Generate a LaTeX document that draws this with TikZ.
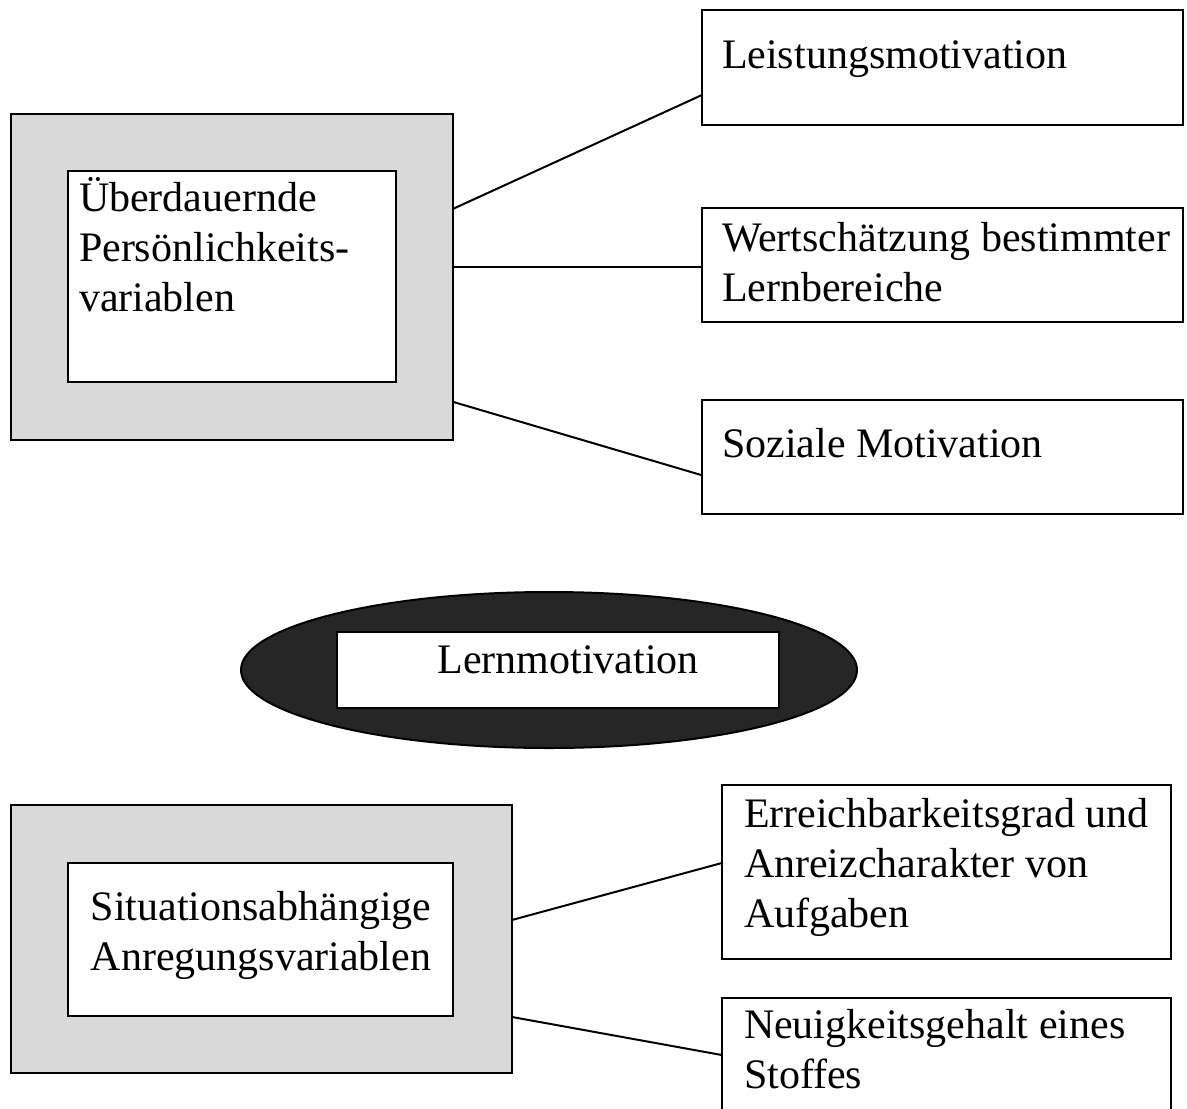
\documentclass[tikz,border=0pt]{standalone}
\usepackage{fontspec}
\setmainfont{Liberation Serif}
\usetikzlibrary{calc,shapes.geometric}
\definecolor{panelgray}{HTML}{D9D9D9}
\definecolor{ovalfill}{HTML}{262626}
\tikzset{
  panel/.style={draw, fill=panelgray, line width=1.2pt, rectangle, inner sep=0pt, outer sep=0pt, anchor=north west},
  card/.style={draw, fill=white, line width=1pt, rectangle, inner sep=0pt, outer sep=0pt, anchor=north west},
  thincard/.style={card, line width=0.8pt},
  oval/.style={draw, fill=ovalfill, line width=1pt, ellipse, inner sep=0pt, outer sep=0pt},
  caption/.style={inner sep=0pt, outer sep=0pt, font=\fontsize{21pt}{25pt}\selectfont},
  link/.style={line width=1pt},
}
\begin{document}
\begin{tikzpicture}[x=0.5pt, y=-0.5pt]
\useasboundingbox (0,0) rectangle (1187,1108);
\begin{scope}
\clip (0,0) rectangle (1187,1108);

% upper group: lasting personality variables
\node[panel, minimum width=221pt, minimum height=163pt] (persOuter) at (11,114) {};
\node[thincard, minimum width=164pt, minimum height=105.5pt] (persInner) at (68,171) {};
\node[caption, anchor=base west] (persText) at (79,211)
  {\parbox[t]{160pt}{Überdauernde\\Persönlichkeits-\\variablen}};

\node[card, minimum width=240.5pt, minimum height=57.5pt] (leist) at (702,10) {};
\node[caption, anchor=base west] (leistText) at (722,68) {Leistungsmotivation};

\node[card, minimum width=240.5pt, minimum height=57pt] (wert) at (702,208) {};
\node[caption, anchor=base west] (wertText) at (722,251)
  {\parbox[t]{240pt}{Wertschätzung bestimmter\\Lernbereiche}};

\node[card, minimum width=240.5pt, minimum height=57pt] (sozial) at (702,400) {};
\node[caption, anchor=base west] (sozialText) at (722,457) {Soziale Motivation};

\draw[link] ($(persOuter.north east)!0.291!(persOuter.south east)$) -- ($(leist.north west)!0.739!(leist.south west)$);
\draw[link] ($(persOuter.north east)!0.469!(persOuter.south east)$) coordinate (midStart) -- (midStart -| wert.west);
\draw[link] ($(persOuter.north east)!0.883!(persOuter.south east)$) -- ($(sozial.north west)!0.660!(sozial.south west)$);

% central oval
\node[oval, minimum width=308pt, minimum height=78pt] (lernOval) at (549,670) {};
\node[card, minimum width=221pt, minimum height=38pt] (lernBox) at (337,632) {};
\node[caption, anchor=base] (lernText) at (568,673) {Lernmotivation};

% lower group: situational stimulus variables
\node[panel, minimum width=250.5pt, minimum height=134pt] (sitOuter) at (11,805) {};
\node[card, minimum width=192.5pt, minimum height=76.5pt] (sitInner) at (68,863) {};
\node[caption, anchor=base] (sitText) at (261,920)
  {\parbox[t]{190pt}{\centering Situationsabhängige\\Anregungsvariablen}};

\node[card, minimum width=224.5pt, minimum height=87pt] (erreich) at (722,785) {};
\node[caption, anchor=base west] (erreichText) at (744,827)
  {\parbox[t]{220pt}{Erreichbarkeitsgrad und\\Anreizcharakter von\\Aufgaben}};

\node[card, minimum width=224.5pt, minimum height=62pt] (neu) at (722,998) {};
\node[caption, anchor=base west] (neuText) at (744,1038)
  {\parbox[t]{220pt}{Neuigkeitsgehalt eines\\Stoffes}};

\draw[link] ($(sitOuter.north east)!0.429!(sitOuter.south east)$) -- ($(erreich.north west)!0.448!(erreich.south west)$);
\draw[link] ($(sitOuter.north east)!0.791!(sitOuter.south east)$) -- ($(neu.north west)!0.46!(neu.south west)$);
\end{scope}
\end{tikzpicture}
\end{document}
